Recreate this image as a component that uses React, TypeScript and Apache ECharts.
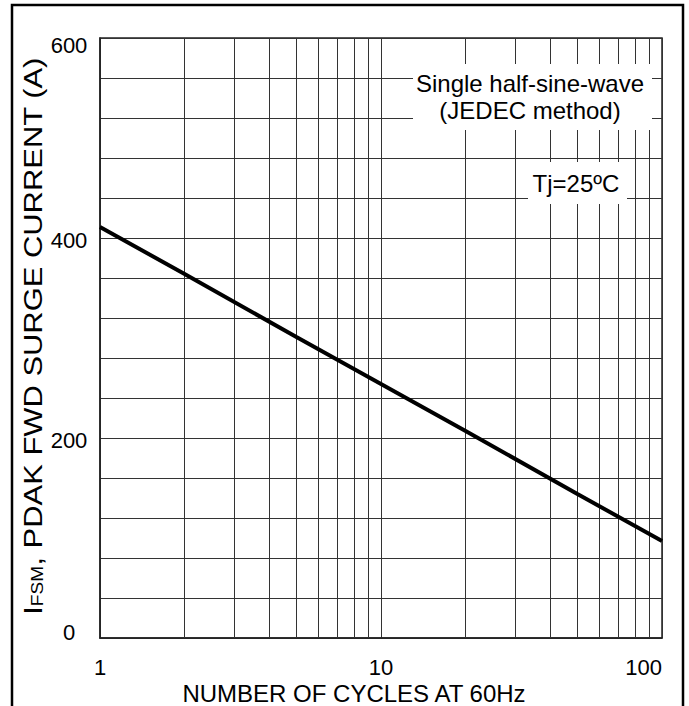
import React, { useEffect, useRef } from "react";
import * as echarts from "echarts";

// ---- data ----
const cycles = [1, 2, 5, 10, 20, 50, 100];
const surgeCurrent = [411, 364, 301, 254, 207, 144, 97];
const xMinorGrid = [2, 3, 4, 5, 6, 7, 8, 9, 20, 30, 40, 50, 60, 70, 80, 90];
const yTickLabels = [0, 200, 400, 600];
const xTitle = "NUMBER OF CYCLES AT 60Hz";
const yTitleMain = "I";
const yTitleSub = "FSM";
const yTitleRest = ", PDAK FWD SURGE CURRENT (A)";
const noteLines = ["Single half-sine-wave", "(JEDEC method)"];
const tjNote = "Tj=25ºC";

const FONT = "'Liberation Sans', Arial, sans-serif";

export default function App() {
  const ref = useRef<HTMLDivElement>(null);
  useEffect(() => {
    if (!ref.current) return;
    const chart = echarts.init(ref.current, null, { renderer: "svg" });
    chart.setOption({
      animation: false,
      backgroundColor: "#fff",
      textStyle: { fontFamily: FONT, color: "#000" },
      grid: {
        left: 100,
        right: 27,
        top: 38,
        bottom: 68,
        show: true,
        borderColor: "#222",
        borderWidth: 1.5,
        containLabel: false,
        outerBoundsMode: "none",
      },
      xAxis: {
        type: "log",
        logBase: 10,
        min: 1,
        max: 100,
        name: xTitle,
        nameLocation: "middle",
        nameGap: 44,
        nameMoveOverlap: false,
        nameTextStyle: { fontSize: 24, lineHeight: 22, color: "#000", fontFamily: FONT, padding: [0, 54, 0, 0] },
        axisLine: { show: true, lineStyle: { color: "#222", width: 1.5 } },
        axisTick: { show: false },
        axisLabel: { fontSize: 22, lineHeight: 18, color: "#000", margin: 20, fontFamily: FONT, alignMaxLabel: "right" },
        splitLine: { show: true, lineStyle: { color: "#333", width: 1 } },
      },
      yAxis: {
        type: "value",
        min: 0,
        max: 600,
        interval: 40,
        axisLine: { show: true, lineStyle: { color: "#222", width: 1.5 } },
        axisTick: { show: false },
        axisLabel: {
          align: "center",
          margin: 31,
          fontFamily: FONT,
          formatter: (v: number) => {
            if (!yTickLabels.includes(v)) return "";
            if (v === 600) return "{top|600}";
            if (v === 0) return "{bot|0}";
            return "{n|" + v + "}";
          },
          rich: {
            top: { fontSize: 22, color: "#000", fontFamily: FONT, padding: [14, 0, 0, 0] },
            bot: { fontSize: 22, color: "#000", fontFamily: FONT, padding: [0, 0, 12, 0] },
            n: { fontSize: 22, color: "#000", fontFamily: FONT, padding: [4, 0, 0, 0] },
          },
        },
        splitLine: { show: true, lineStyle: { color: "#333", width: 1 } },
      },
      series: [
        {
          type: "line",
          data: cycles.map((c, i) => [c, surgeCurrent[i]]),
          symbol: "none",
          lineStyle: { color: "#000", width: 4 },
          z: 5,
          markLine: {
            silent: true,
            symbol: ["none", "none"],
            label: { show: false },
            lineStyle: { color: "#333", width: 1, type: "solid" },
            z: 1,
            data: xMinorGrid.map((v) => ({ xAxis: v })),
          },
        },
      ],
      graphic: [
        {
          type: "rect",
          z: 100,
          shape: { x: 12, y: 5, width: 671, height: 760 },
          style: { fill: "none", stroke: "#000", lineWidth: 2.5 },
        },
        {
          type: "text",
          z: 101,
          x: 32,
          y: 336,
          rotation: Math.PI / 2,
          scaleX: 1.19,
          scaleY: 1,
          style: {
            text: "{a|" + yTitleMain + "}{s|" + yTitleSub + "}{a|" + yTitleRest + "}",
            fontFamily: FONT,
            fill: "#000",
            align: "center",
            verticalAlign: "middle",
            rich: {
              a: { fontSize: 26, fontFamily: FONT, fill: "#000", lineHeight: 28, verticalAlign: "bottom" },
              s: { fontSize: 16, fontFamily: FONT, fill: "#000", lineHeight: 21, verticalAlign: "bottom" },
            },
          },
        },
        {
          type: "rect",
          z: 100,
          shape: { x: 413, y: 64, width: 239, height: 66 },
          style: { fill: "#fff" },
        },
        {
          type: "text",
          z: 101,
          x: 530,
          y: 83,
          style: { text: noteLines[0], fontSize: 24, fontFamily: FONT, fill: "#000", align: "center", verticalAlign: "middle" },
        },
        {
          type: "text",
          z: 101,
          x: 530,
          y: 110,
          style: { text: noteLines[1], fontSize: 24, fontFamily: FONT, fill: "#000", align: "center", verticalAlign: "middle" },
        },
        {
          type: "rect",
          z: 100,
          shape: { x: 528, y: 162, width: 99, height: 42 },
          style: { fill: "#fff" },
        },
        {
          type: "text",
          z: 101,
          x: 576,
          y: 183,
          style: { text: tjNote, fontSize: 24, fontFamily: FONT, fill: "#000", align: "center", verticalAlign: "middle" },
        },
      ],
    });
    return () => chart.dispose();
  }, []);
  return (
    <div
      ref={ref}
      style={{ position: "fixed", left: 0, top: 0, width: 689, height: 706 }}
    />
  );
}
